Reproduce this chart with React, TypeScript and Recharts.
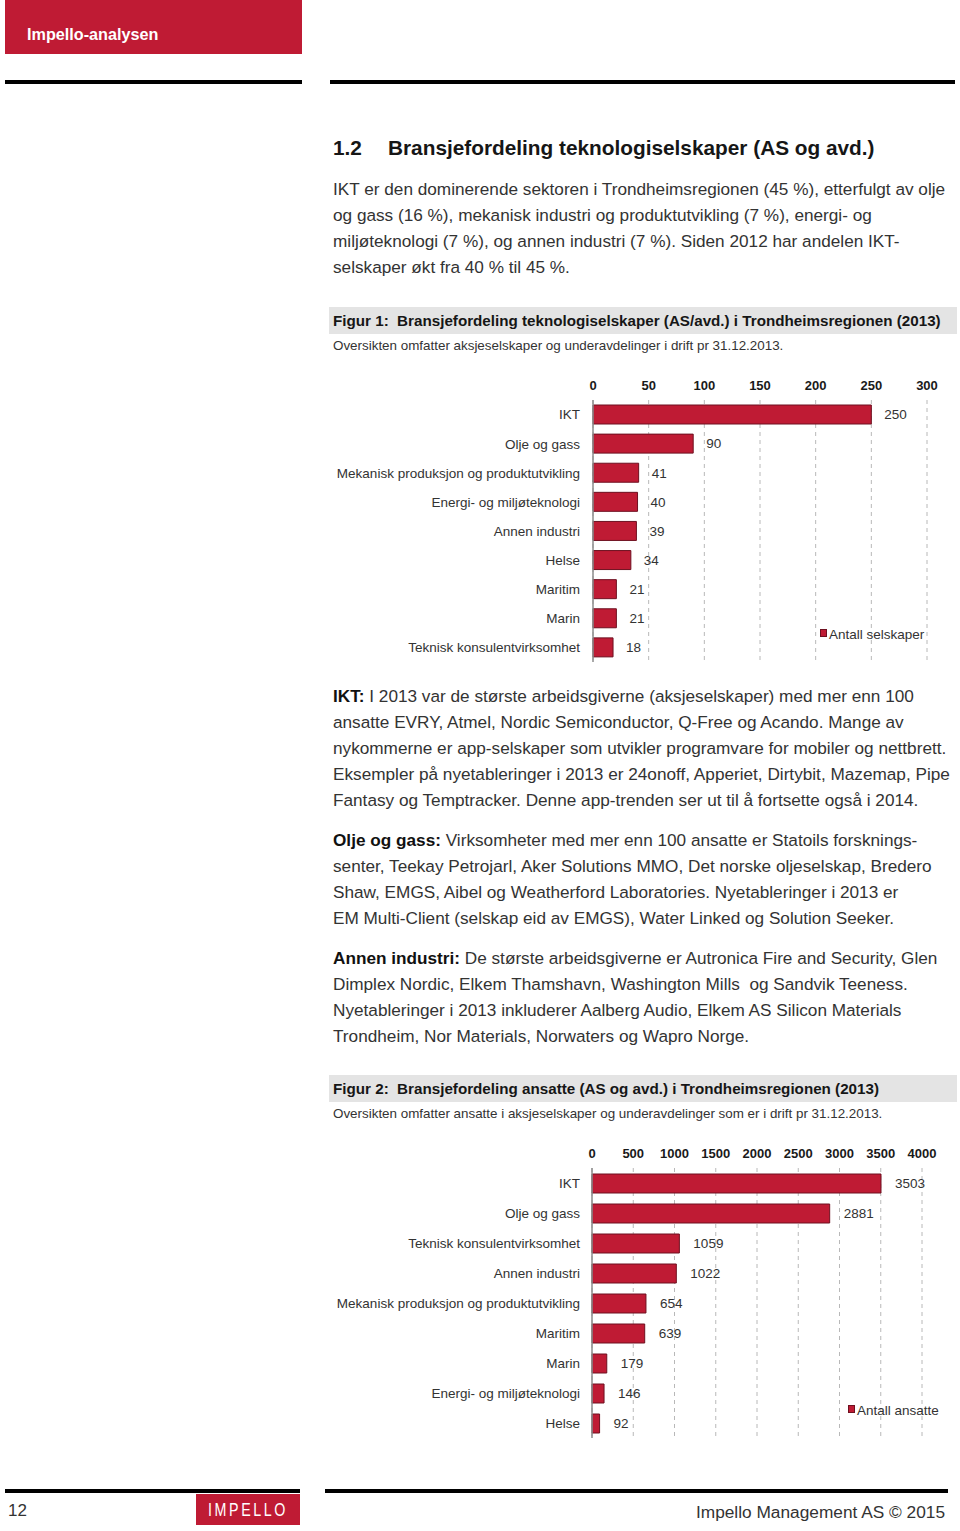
import React from 'react';
import { BarChart, Bar, XAxis, YAxis, CartesianGrid, LabelList, Legend } from 'recharts';

// ---------- data ----------
const companyCategories = [
  'IKT',
  'Olje og gass',
  'Mekanisk produksjon og produktutvikling',
  'Energi- og miljøteknologi',
  'Annen industri',
  'Helse',
  'Maritim',
  'Marin',
  'Teknisk konsulentvirksomhet',
];
const companyCounts = [250, 90, 41, 40, 39, 34, 21, 21, 18];
const companyTicks = [0, 50, 100, 150, 200, 250, 300];
const companySeriesName = 'Antall selskaper';

const employeeCategories = [
  'IKT',
  'Olje og gass',
  'Teknisk konsulentvirksomhet',
  'Annen industri',
  'Mekanisk produksjon og produktutvikling',
  'Maritim',
  'Marin',
  'Energi- og miljøteknologi',
  'Helse',
];
const employeeCounts = [3503, 2881, 1059, 1022, 654, 639, 179, 146, 92];
const employeeTicks = [0, 500, 1000, 1500, 2000, 2500, 3000, 3500, 4000];
const employeeSeriesName = 'Antall ansatte';

// ---------- text ----------
const headerLabel = 'Impello-analysen';
const sectionNumber = '1.2';
const sectionTitle = 'Bransjefordeling teknologiselskaper (AS og avd.)';
const introLines = [
  'IKT er den dominerende sektoren i Trondheimsregionen (45 %), etterfulgt av olje',
  'og gass (16 %), mekanisk industri og produktutvikling (7 %), energi- og',
  'miljøteknologi (7 %), og annen industri (7 %). Siden 2012 har andelen IKT-',
  'selskaper økt fra 40 % til 45 %.',
];
const fig1Title = 'Figur 1:  Bransjefordeling teknologiselskaper (AS/avd.) i Trondheimsregionen (2013)';
const fig1Sub = 'Oversikten omfatter aksjeselskaper og underavdelinger i drift pr 31.12.2013.';
const iktLead = 'IKT:';
const iktLines = [
  ' I 2013 var de største arbeidsgiverne (aksjeselskaper) med mer enn 100',
  'ansatte EVRY, Atmel, Nordic Semiconductor, Q-Free og Acando. Mange av',
  'nykommerne er app-selskaper som utvikler programvare for mobiler og nettbrett.',
  'Eksempler på nyetableringer i 2013 er 24onoff, Apperiet, Dirtybit, Mazemap, Pipe',
  'Fantasy og Temptracker. Denne app-trenden ser ut til å fortsette også i 2014.',
];
const oljeLead = 'Olje og gass:';
const oljeLines = [
  ' Virksomheter med mer enn 100 ansatte er Statoils forsknings-',
  'senter, Teekay Petrojarl, Aker Solutions MMO, Det norske oljeselskap, Bredero',
  'Shaw, EMGS, Aibel og Weatherford Laboratories. Nyetableringer i 2013 er',
  'EM Multi-Client (selskap eid av EMGS), Water Linked og Solution Seeker.',
];
const annenLead = 'Annen industri:';
const annenLines = [
  ' De største arbeidsgiverne er Autronica Fire and Security, Glen',
  'Dimplex Nordic, Elkem Thamshavn, Washington Mills  og Sandvik Teeness.',
  'Nyetableringer i 2013 inkluderer Aalberg Audio, Elkem AS Silicon Materials',
  'Trondheim, Nor Materials, Norwaters og Wapro Norge.',
];
const fig2Title = 'Figur 2:  Bransjefordeling ansatte (AS og avd.) i Trondheimsregionen (2013)';
const fig2Sub = 'Oversikten omfatter ansatte i aksjeselskaper og underavdelinger som er i drift pr 31.12.2013.';
const pageNumber = '12';
const footerText = 'Impello Management AS © 2015';
const logoText = 'IMPELLO';

// ---------- styles ----------
const FF = '"Liberation Sans", Arial, Helvetica, sans-serif';
const TEXT = '#333333';
const RED = '#bf1b34';
const BAR_STROKE = '#6e1020';
const BODY_SIZE = 17.2;

type TProps = {
  x: number;
  y: number;
  size?: number;
  bold?: boolean;
  color?: string;
  anchorEnd?: boolean;
  children?: React.ReactNode;
  style?: React.CSSProperties;
};

function T({ x, y, size = 16, bold = false, color = TEXT, anchorEnd = false, children, style }: TProps) {
  const h = Math.round(size * 1.4);
  return (
    <div
      style={{
        position: 'absolute',
        left: anchorEnd ? undefined : x,
        right: anchorEnd ? 960 - x : undefined,
        top: y - h / 2,
        height: h,
        lineHeight: h + 'px',
        fontSize: size,
        fontWeight: bold ? 'bold' : 'normal',
        color,
        whiteSpace: 'pre',
        fontFamily: FF,
        ...style,
      }}
    >
      {children}
    </div>
  );
}

function Para({ top, lead, lines }: { top: number; lead?: string; lines: string[] }) {
  return (
    <>
      {lines.map((ln, i) => (
        <T key={i} x={333} y={top + i * 25.9} size={BODY_SIZE}>
          {i === 0 && lead ? <span style={{ fontWeight: 'bold', color: '#111' }}>{lead}</span> : null}
          {ln}
        </T>
      ))}
    </>
  );
}

function Rect({ x, y, w, h, c }: { x: number; y: number; w: number; h: number; c: string }) {
  return <div style={{ position: 'absolute', left: x, top: y, width: w, height: h, background: c }} />;
}

function makeLegend() {
  return (props: any) => {
    const item = props.payload && props.payload[0];
    return (
      <div style={{ display: 'flex', alignItems: 'flex-start', fontFamily: FF, fontSize: 13.5, color: TEXT, lineHeight: '16px', whiteSpace: 'nowrap' }}>
        <span
          style={{
            display: 'inline-block',
            width: 5,
            height: 6,
            background: RED,
            border: `1px solid ${BAR_STROKE}`,
            marginTop: 2,
            marginRight: 2,
          }}
        />
        <span>{item ? item.value : ''}</span>
      </div>
    );
  };
}

function CategoryTick(props: any) {
  const { x, y, payload } = props;
  return (
    <text x={x} y={y} dy="0.36em" textAnchor="end" fontSize={13.5} fill={TEXT} fontFamily={FF}>
      {payload.value}
    </text>
  );
}

type ChartProps = {
  categories: string[];
  values: number[];
  ticks: number[];
  seriesName: string;
  height: number;
  marginRight: number;
  yWidth: number;
  tickMargin: number;
  labelOffset: number;
  legendLeft: number;
  legendTop: number;
};

function HBarChart(p: ChartProps) {
  const data = p.categories.map((name, i) => ({ name, value: p.values[i] }));
  const max = p.ticks[p.ticks.length - 1];
  return (
    <BarChart
      layout="vertical"
      width={630}
      height={p.height}
      data={data}
      margin={{ top: 5, right: p.marginRight, bottom: 3, left: 0 }}
      barSize={19}
      style={{ fontFamily: FF }}
    >
      <CartesianGrid horizontal={false} vertical stroke="#b8b8b8" strokeDasharray="4 4" />
      <XAxis
        type="number"
        orientation="top"
        domain={[0, max]}
        ticks={p.ticks}
        interval={0}
        height={30}
        axisLine={false}
        tickLine={false}
        tickSize={6}
        tickMargin={4}
        tick={{ fontSize: 13, fontWeight: 'bold', fill: '#1a1a1a', fontFamily: FF }}
      />
      <YAxis
        type="category"
        dataKey="name"
        width={p.yWidth}
        interval={0}
        axisLine={{ stroke: '#8c8c8c', strokeWidth: 1.5 }}
        tickLine={false}
        tickSize={6}
        tickMargin={p.tickMargin}
        tick={<CategoryTick />}
      />
      <Bar
        dataKey="value"
        name={p.seriesName}
        fill={RED}
        stroke={BAR_STROKE}
        strokeWidth={1}
        isAnimationActive={false}
      >
        <LabelList dataKey="value" position="right" offset={p.labelOffset} style={{ fontSize: 13.5, fill: TEXT, fontFamily: FF }} />
      </Bar>
      <Legend
        layout="horizontal"
        verticalAlign="middle"
        align="center"
        content={makeLegend()}
        wrapperStyle={{ left: p.legendLeft, top: p.legendTop, width: 'auto', height: 'auto' }}
      />
    </BarChart>
  );
}

export default function App() {
  return (
    <div
      style={{
        position: 'absolute',
        left: 0,
        top: 0,
        width: 960,
        height: 1531,
        background: '#fff',
        overflow: 'hidden',
        fontFamily: FF,
      }}
    >
      {/* header */}
      <Rect x={5} y={0} w={297} h={54} c={RED} />
      <T x={27} y={34} size={16.2} bold color="#fff">{headerLabel}</T>
      <Rect x={5} y={80} w={297} h={4} c="#000" />
      <Rect x={330} y={80} w={625} h={4} c="#000" />

      {/* heading */}
      <T x={333} y={147} size={20.8} bold color="#161616">{sectionNumber}</T>
      <T x={388} y={147} size={20.8} bold color="#161616">{sectionTitle}</T>

      <Para top={189} lines={introLines} />

      {/* figure 1 caption */}
      <Rect x={329} y={307} w={628} h={27} c="#e4e4e4" />
      <T x={333} y={320} size={15.2} bold color="#161616">{fig1Title}</T>
      <T x={333} y={345} size={13.4}>{fig1Sub}</T>

      <div style={{ position: 'absolute', left: 330, top: 365 }}>
        <HBarChart
          categories={companyCategories}
          values={companyCounts}
          ticks={companyTicks}
          seriesName={companySeriesName}
          height={300}
          marginRight={33}
          yWidth={263}
          tickMargin={7}
          labelOffset={13}
          legendLeft={490}
          legendTop={262}
        />
      </div>

      <Para top={696} lead={iktLead} lines={iktLines} />
      <Para top={840} lead={oljeLead} lines={oljeLines} />
      <Para top={958} lead={annenLead} lines={annenLines} />

      {/* figure 2 caption */}
      <Rect x={329} y={1075} w={628} h={27} c="#e4e4e4" />
      <T x={333} y={1088} size={15.2} bold color="#161616">{fig2Title}</T>
      <T x={333} y={1113} size={13.4}>{fig2Sub}</T>

      <div style={{ position: 'absolute', left: 330, top: 1133 }}>
        <HBarChart
          categories={employeeCategories}
          values={employeeCounts}
          ticks={employeeTicks}
          seriesName={employeeSeriesName}
          height={308}
          marginRight={38}
          yWidth={262}
          tickMargin={6}
          labelOffset={14}
          legendLeft={518}
          legendTop={270}
        />
      </div>

      {/* footer */}
      <Rect x={5} y={1489} w={295} h={4} c="#000" />
      <Rect x={325} y={1489} w={623} h={4} c="#000" />
      <T x={8} y={1511} size={17}>{pageNumber}</T>
      <Rect x={196} y={1494} w={104} h={31} c={RED} />
      <T x={248} y={1509} size={19} color="#fff" style={{ letterSpacing: 3.5, transform: 'translateX(-50%) scaleX(0.75)', transformOrigin: 'center' }}>{logoText}</T>
      <T x={945} y={1512} size={17.3} anchorEnd>{footerText}</T>
    </div>
  );
}
